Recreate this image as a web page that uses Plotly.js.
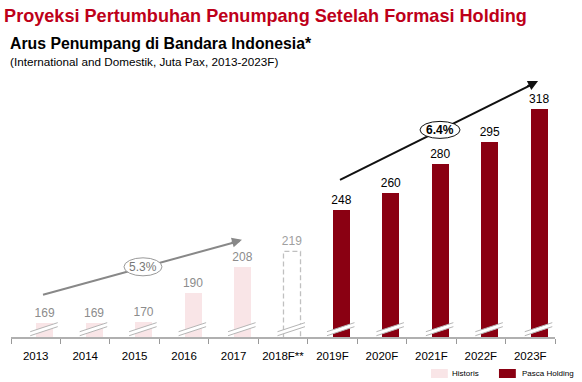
<!DOCTYPE html>
<html><head><meta charset="utf-8">
<script src="https://cdn.plot.ly/plotly-3.0.1.min.js"></script>
<style>html,body{margin:0;padding:0;background:#fff}#chart{width:582px;height:382px}</style>
</head><body><div id="chart"></div>
<script>
// ---- data ----
const years = ['2013','2014','2015','2016','2017','2018F**','2019F','2020F','2021F','2022F','2023F'];
const histYears = ['2013','2014','2015','2016','2017'];
const histValues = [169,169,170,190,208];
const estYears = ['2018F**'];
const estValues = [219];
const foreYears = ['2019F','2020F','2021F','2022F','2023F'];
const foreValues = [248,260,280,295,318];
const cagrHist = '5.3%';
const cagrFore = '6.4%';
const legendNames = ['Historis','Pasca Holding'];

// ---- style ----
const FONT = 'Arial, "Liberation Sans", Helvetica, sans-serif';
const PINK = '#F9E5E7';
const RED = '#8A0012';
const GRAYTXT = '#8c8c8c';
const BW = 0.344, BOFF = 0.01;
const YMIN = 159.4, YMAX = 352.4;

function barTrace(x, y, color, txtColor, name){
  return {type:'bar', x:x, y:y, name:name, width:BW, offset:BOFF,
    marker:{color:color, line:{width:0}},
    text:y.map(String), textposition:'outside', texttemplate:'%{text}', constraintext:'none',
    textfont:{family:FONT, size:12, color:txtColor},
    hoverinfo:'skip', showlegend:false};
}
const traces = [
  barTrace(histYears, histValues, PINK, GRAYTXT, legendNames[0]),
  barTrace(estYears, estValues, 'rgba(0,0,0,0)', '#a0a0a0', 'est'),
  barTrace(foreYears, foreValues, RED, '#000', legendNames[1])
];

const shapes = [];
// dashed estimate bar outline
estYears.forEach((c,k)=>{
  const i = years.indexOf(c);
  shapes.push({type:'rect', xref:'x', yref:'y', x0:i+BOFF, x1:i+BOFF+BW, y0:YMIN-10, y1:estValues[k],
    line:{color:'#c0c0c0', width:1.3, dash:'5px,3px'}, fillcolor:'rgba(0,0,0,0)'});
});
// axis break marks
years.forEach((c,i)=>{
  const xl = i-0.111, xr = i+0.445;
  shapes.push({type:'path', xref:'x', yref:'y', layer:'above',
    path:`M${xl},160.3 L${xr},166.6 L${xr},169.4 L${xl},163.1 Z`, fillcolor:'#fff', line:{width:0}});
  shapes.push({type:'line', xref:'x', yref:'y', x0:xl, y0:160.3, x1:xr, y1:166.6, line:{color:'#b5b5b5', width:1}});
  shapes.push({type:'line', xref:'x', yref:'y', x0:xl, y0:163.1, x1:xr, y1:169.4, line:{color:'#b5b5b5', width:1}});
});
// trend arrows (lines)
shapes.push({type:'line', xref:'x', yref:'y', x0:0.147, y0:188.8, x1:4.12, y1:226.3, line:{color:'#888', width:2}});
shapes.push({type:'line', xref:'x', yref:'y', x0:6.153, y0:268.9, x1:10.10, y1:336.5, line:{color:'#111', width:2}});
// ellipses
shapes.push({type:'circle', xref:'x', yref:'y', xsizemode:'pixel', ysizemode:'pixel', xanchor:2.169, yanchor:208.3,
  x0:-19, x1:19, y0:-9, y1:9, fillcolor:'#fff', line:{color:'#999', width:1}});
shapes.push({type:'circle', xref:'x', yref:'y', xsizemode:'pixel', ysizemode:'pixel', xanchor:8.175, yanchor:303.7,
  x0:-20, x1:20, y0:-8.5, y1:8.5, fillcolor:'#fff', line:{color:'#111', width:1}});
// legend swatches
shapes.push({type:'rect', xref:'paper', yref:'paper', x0:0.772, x1:0.803, y0:-0.148, y1:-0.1155, fillcolor:PINK, line:{width:0}});
shapes.push({type:'rect', xref:'paper', yref:'paper', x0:0.897, x1:0.928, y0:-0.148, y1:-0.1155, fillcolor:RED, line:{width:0}});

const annotations = [
  {xref:'paper', yref:'paper', x:-0.0055, y:1.058, xanchor:'left', yanchor:'middle', showarrow:false,
   text:'<b>Arus Penumpang di Bandara Indonesia*</b>', font:{family:FONT, size:15.8, color:'#000'}},
  {xref:'paper', yref:'paper', x:-0.0055, y:0.995, xanchor:'left', yanchor:'middle', showarrow:false,
   text:'(International and Domestik, Juta Pax, 2013-2023F)', font:{family:FONT, size:11.7, color:'#000'}},
  // arrowheads
  {xref:'x', yref:'y', x:4.17, y:227.1, ax:-12, ay:3.4, showarrow:true, arrowhead:2, arrowsize:1, arrowwidth:2, arrowcolor:'#888', text:''},
  {xref:'x', yref:'y', x:10.157, y:337.8, ax:-12, ay:6, showarrow:true, arrowhead:2, arrowsize:1, arrowwidth:2, arrowcolor:'#111', text:''},
  // CAGR labels
  {xref:'x', yref:'y', x:2.169, y:208.3, showarrow:false, text:cagrHist, font:{family:FONT, size:12, color:'#777'}},
  {xref:'x', yref:'y', x:8.175, y:303.7, showarrow:false, text:'<b>'+cagrFore+'</b>', font:{family:FONT, size:12, color:'#000'}},
  // legend texts
  {xref:'paper', yref:'paper', x:0.807, y:-0.1318, xanchor:'left', yanchor:'middle', showarrow:false, text:legendNames[0], font:{family:FONT, size:8, color:'#000'}},
  {xref:'paper', yref:'paper', x:0.9357, y:-0.1318, xanchor:'left', yanchor:'middle', showarrow:false, text:legendNames[1], font:{family:FONT, size:8, color:'#000'}}
];

const layout = {
  width:582, height:382, paper_bgcolor:'#fff', plot_bgcolor:'#fff',
  margin:{l:11, r:27, t:60, b:45},
  title:{text:'<b>Proyeksi Pertumbuhan Penumpang Setelah Formasi Holding</b>', x:0.007, xanchor:'left', xref:'container',
    y:0.959, yanchor:'middle', yref:'container', font:{family:FONT, size:18.1, color:'#BE0019'}},
  xaxis:{type:'category', categoryorder:'array', categoryarray:years, range:[-0.5,10.5],
    tickson:'boundaries', ticks:'outside', ticklen:5, tickcolor:'#999', tickwidth:1, tickangle:0,
    ticklabelstandoff:8,
    showline:true, linecolor:'#b0b0b0', linewidth:1.5, showgrid:false, zeroline:false,
    tickfont:{family:FONT, size:11.5, color:'#000'}, fixedrange:true},
  yaxis:{range:[YMIN,YMAX], visible:false, showgrid:false, zeroline:false, fixedrange:true},
  showlegend:false, bargap:0, shapes:shapes, annotations:annotations, font:{family:FONT}
};
Plotly.newPlot('chart', traces, layout, {staticPlot:true, displayModeBar:false});
</script></body></html>
